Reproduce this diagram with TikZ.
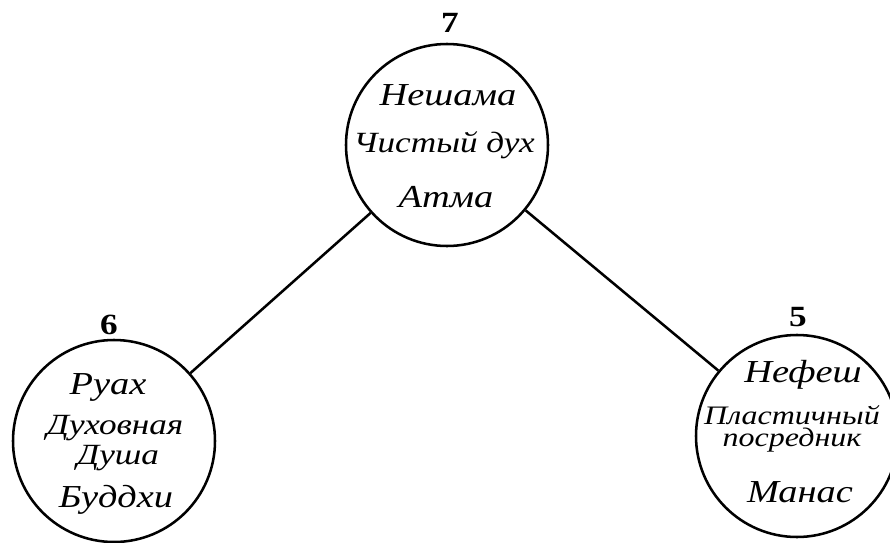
\documentclass[tikz,border=0pt]{standalone}
\usepackage{fontspec}
\setmainfont{Liberation Serif}
\newfontfamily\rufont[FakeStretch=1.2]{Liberation Serif}
\usepackage{tikz}
\usetikzlibrary{calc}
\usetikzlibrary{positioning}

\begin{document}
\begin{tikzpicture}[x=0.75pt, y=-0.75pt, line width=1.9pt,
		soul/.style = {draw, circle, minimum size=151.5pt, inner sep=0pt},
		big/.style = {font=\rufont\itshape\fontsize{24}{24}\selectfont, inner sep=0pt},
		small/.style = {font=\rufont\itshape\fontsize{22}{15}\selectfont, inner sep=0pt},
		num/.style = {font=\rufont\bfseries\fontsize{22}{22}\selectfont, inner sep=0pt}]
		\useasboundingbox (0,0) rectangle (890,543);
		\node[soul] (A) at (447,145) {};
		\node[soul] (B) at (114,441) {};
		\node[soul] (C) at (797,436) {};
		
		\draw (A) -- (B);
		\draw (A) -- (C);
		
		% numbers
		\node[num] (nA) at (450,23) {7};
		\node[num] (nB) at (109,325) {6};
		\node[num] (nC) at (798,317) {5};
		
		% top
		\node[big] (A1) at (448,95) {Нешама};
		\node[small] (A2) at (444,145) {Чистый дух};
		\node[big] (A3) at (446,197) {Атма};
		
		% left
		\node[big] (B1) at (108,387) {Руах};
		\node[small] (B2) at (115,428) {Духовная};
		\node[small] (B3) at (118,458) {Душа};
		\node[big] (B4) at (116,500) {Буддхи};
		
		% right
		\node[big] (C1) at (803,375) {Нефеш};
		\node[small, align=center, font=\rufont\itshape\fontsize{20}{17}\selectfont] (C2) at (792,429) {Пластичный\\посредник};
		\node[big] (C4) at (800,492) {Манас};
	\end{tikzpicture}
\end{document}
